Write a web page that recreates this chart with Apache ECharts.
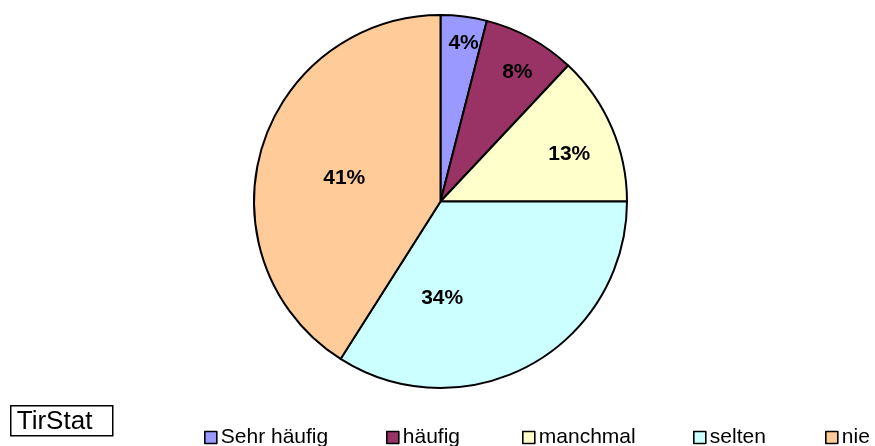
<!DOCTYPE html>
<html>
<head>
<meta charset="utf-8">
<script src="https://cdn.jsdelivr.net/npm/echarts@6/dist/echarts.min.js"></script>
<style>
  html, body { margin: 0; padding: 0; background: #fff; }
  #chart { width: 875px; height: 446px; }
</style>
</head>
<body>
<div id="chart"></div>
<script>
// Answer categories and their shares (percent)
const categories = ['Sehr häufig', 'häufig', 'manchmal', 'selten', 'nie'];
const shares = [4, 8, 13, 34, 41];
const sliceColors = ['#9999FF', '#993366', '#FFFFCC', '#CCFFFF', '#FFCC99'];

// Label anchors inside each slice: [angle clockwise from 12 o'clock (deg), distance from centre (px)]
const labelAnchors = [[8.3, 160], [30.8, 150], [70, 137], [179, 97], [283.5, 99]];
// Left edge of each legend entry
const legendLefts = [204, 386, 522, 693, 825];

const FONT = '"Liberation Sans", Arial, sans-serif';
const CX = 440.5, CY = 201.5, R = 186.5;

const chart = echarts.init(document.getElementById('chart'), null, { renderer: 'canvas' });

const legends = categories.map((name, i) => ({
  data: [name],
  orient: 'horizontal',
  left: legendLefts[i],
  top: 427,
  itemWidth: 12,
  itemHeight: 12,
  itemGap: 0,
  padding: 0,
  icon: 'rect',
  selectedMode: false,
  itemStyle: { borderColor: '#000', borderWidth: 1.6 },
  textStyle: { fontFamily: FONT, fontSize: 21, color: '#000', padding: [0, 0, 0, -1] }
}));

chart.setOption({
  animation: false,
  backgroundColor: '#fff',
  color: sliceColors,
  legend: legends,
  graphic: [{
    type: 'group',
    left: 10,
    top: 405,
    children: [
      { type: 'rect', shape: { x: 0, y: 0, width: 102, height: 30 },
        style: { fill: '#fff', stroke: '#000', lineWidth: 1.5 } },
      { type: 'text', x: 6, y: 16,
        style: { text: 'TirStat', font: '26px ' + FONT, fill: '#000', textVerticalAlign: 'middle' } }
    ]
  }],
  series: [{
    type: 'pie',
    center: [CX, CY],
    radius: [0, R],
    startAngle: 90,
    clockwise: true,
    avoidLabelOverlap: false,
    itemStyle: { borderColor: '#000', borderWidth: 2 },
    emphasis: { disabled: true },
    label: {
      show: true,
      position: 'inside',
      formatter: p => p.value + '%',
      fontFamily: FONT,
      fontSize: 21,
      fontWeight: 'bold',
      color: '#000'
    },
    labelLine: { show: false },
    labelLayout: function (params) {
      const a = labelAnchors[params.dataIndex];
      const rad = a[0] * Math.PI / 180;
      return {
        x: CX + a[1] * Math.sin(rad),
        y: CY - a[1] * Math.cos(rad),
        align: 'center',
        verticalAlign: 'middle'
      };
    },
    data: categories.map((name, i) => ({ name: name, value: shares[i] }))
  }]
});
</script>
</body>
</html>
